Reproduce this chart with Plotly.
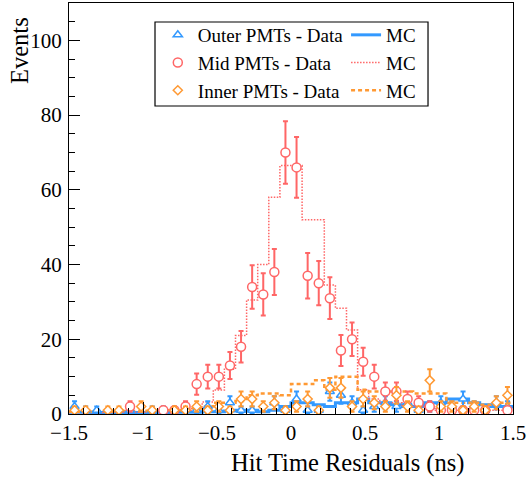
import numpy as np
import plotly.graph_objects as go

# 40 bins of 0.075 ns between -1.5 and 1.5
BIN_EDGES = np.linspace(-1.5, 1.5, 41)

# counts per bin
outer_data = [2, 1, 1, 0, 0, 1, 0, 1, 1, 0, 0, 1, 2, 1, 3, 1, 1, 0, 3, 1,
              4, 1, 1, 6, 5, 3, 1, 2, 3, 2, 3, 1, 2, 3, 2, 4, 2, 1, 3, 2]
mid_data = [0, 0, 0, 0, 0, 2, 0, 0, 1, 1, 2, 8, 10, 10, 13, 18, 34, 32, 38, 70,
            66, 37, 35, 31, 17, 20, 14, 10, 6, 6, 4, 3, 2, 1, 1, 1, 1, 1, 0, 1]
inner_data = [1, 1, 0, 1, 1, 0, 2, 1, 0, 1, 1, 2, 1, 2, 1, 4, 4, 2, 3, 1,
              2, 4, 1, 7, 7, 2, 4, 3, 2, 5, 2, 1, 9, 2, 2, 1, 2, 1, 3, 5]

outer_mc = [0.5, 0.5, 0.4, 0.4, 0.4, 0.4, 0.4, 0.4, 0.4, 0.5, 0.5, 0.5, 0.6, 0.6, 0.8, 1, 1, 0.6, 1, 2,
            3, 3, 2.5, 2, 3, 3, 4, 3, 3, 2.5, 2, 2, 3, 3, 4, 4, 3, 2.5, 2, 2]
mid_mc = [0.4, 0.4, 0.4, 0.4, 0.5, 0.5, 0.5, 0.6, 0.7, 1, 1, 1.5, 3.2, 6.4, 12, 21, 30.5, 40, 58, 66.5,
          66.5, 52, 52, 34.5, 28.3, 22.5, 6.5, 4, 3, 3, 2, 2, 1.5, 1, 1, 1, 1, 1, 1, 1]
inner_mc = [0.6, 0.6, 0.6, 0.7, 0.7, 0.8, 0.8, 0.9, 1, 1, 1, 1.5, 2, 3, 3, 3.5, 5, 5.5, 5.5, 5,
            8, 8, 9, 6.5, 10, 10, 6.5, 6, 6, 6, 6, 5.5, 5.5, 5.5, 3, 3, 3, 2.5, 3, 3]

BLUE = "#3399ff"
RED = "#ff6666"
ORANGE = "#ff9933"
FONT = "Liberation Serif"

centers = 0.5 * (BIN_EDGES[:-1] + BIN_EDGES[1:])

fig = go.Figure()


def add_mc(values, color, dash, width, name):
    # step histogram: left edges + closing right edge
    y = list(values) + [values[-1]]
    fig.add_trace(go.Scatter(
        x=BIN_EDGES, y=y, mode="lines", line_shape="hv",
        line=dict(color=color, width=width, dash=dash),
        name=name, legend="legend2", legendgroup="mc",
    ))


def add_data(values, color, symbol, size, name):
    vals = np.array(values, dtype=float)
    y = [v if v > 0 else None for v in vals]
    err = np.sqrt(vals)
    fig.add_trace(go.Scatter(
        x=centers, y=y, mode="markers",
        marker=dict(symbol=symbol, size=size, color="white",
                    line=dict(color=color, width=1.5)),
        error_y=dict(type="data", array=err, color=color, thickness=2, width=2.5),
        name=name, legend="legend", legendgroup="data",
    ))


add_mc(outer_mc, BLUE, "solid", 3, "MC")
add_mc(mid_mc, RED, "1.5px,1.5px", 1.5, "MC")
add_mc(inner_mc, ORANGE, "4px,3px", 2.5, "MC")

add_data(outer_data, BLUE, "triangle-up", 8, "Outer PMTs - Data")
add_data(mid_data, RED, "circle", 9, "Mid PMTs - Data")
add_data(inner_data, ORANGE, "diamond", 7, "Inner PMTs - Data")


def legend_style(x):
    return dict(
        x=x, y=0.9684, itemwidth=30,
        font=dict(family=FONT, size=19, color="black"),
        bgcolor="rgba(0,0,0,0)", borderwidth=0,
        tracegroupgap=0, yanchor="top", xanchor="left",
    )


fig.update_layout(
    width=528, height=477,
    margin=dict(l=69, r=15, t=3, b=63),
    plot_bgcolor="white", paper_bgcolor="white",
    font=dict(family=FONT, size=21, color="black"),
    showlegend=True,
    legend=legend_style(0.2),
    legend2=legend_style(0.624),
    xaxis=dict(
        range=[-1.5, 1.5], tickvals=[-1.5, -1, -0.5, 0, 0.5, 1, 1.5],
        ticktext=["\u22121.5", "\u22121", "\u22120.5", "0", "0.5", "1", "1.5"],
        ticks="inside", ticklen=12, tickcolor="black",
        minor=dict(dtick=0.1, ticks="inside", ticklen=6, tickcolor="black"),
        showline=True, linecolor="black", linewidth=1, mirror=True,
        showgrid=False, zeroline=False,
    ),
    yaxis=dict(
        range=[0, 110], tickvals=[0, 20, 40, 60, 80, 100],
        ticks="inside", ticklen=11, tickcolor="black",
        minor=dict(dtick=5, ticks="inside", ticklen=6, tickcolor="black"),
        showline=True, linecolor="black", linewidth=1, mirror=True,
        showgrid=False, zeroline=False, ticklabelstandoff=2,
    ),
    shapes=[dict(type="rect", xref="paper", yref="paper",
                 x0=0.1937, x1=0.8086, y0=0.7494, y1=0.9538,
                 line=dict(color="black", width=1.2))],
    annotations=[
        dict(text="Events", xref="paper", yref="paper", x=0, y=1,
             xanchor="right", yanchor="top", xshift=-34, yshift=-12,
             textangle=-90, showarrow=False, font=dict(size=24.5)),
        dict(text="Hit Time Residuals (ns)", xref="paper", yref="paper",
             x=0.894, y=0, xanchor="right", yanchor="middle", yshift=-49,
             showarrow=False, font=dict(size=24.5)),
    ],
)

# drop the default 8px body margin so the figure sits at the window corner
fig.write_html("out.html", config={"displayModeBar": False},
               post_script="document.body.style.margin='0px';")
